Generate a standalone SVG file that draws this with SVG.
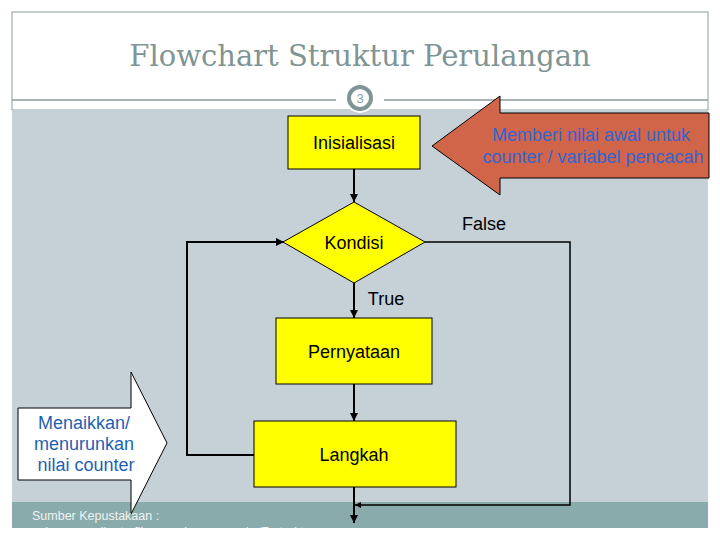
<svg xmlns="http://www.w3.org/2000/svg" width="720" height="540" viewBox="0 0 720 540">
<style>
.box{fill:#FFFF00;stroke:#000;stroke-width:1}
.lbl{font-family:"Liberation Sans",Arial,sans-serif;font-size:18px;fill:#000;text-anchor:middle}
.conn{fill:none;stroke:#000;stroke-width:2}
.thin{fill:none;stroke:#000;stroke-width:1.5}
.blue{font-family:"Liberation Sans",Arial,sans-serif;font-size:18px;text-anchor:middle}
</style>
<defs>
<marker id="ah" viewBox="0 0 10 10" refX="10" refY="5" markerWidth="4" markerHeight="4" orient="auto" markerUnits="strokeWidth">
<path d="M0,0 L10,5 L0,10 z" fill="#000"/>
</marker>
<clipPath id="foot"><rect x="12" y="502" width="696" height="26"/></clipPath>
</defs>
<rect x="0" y="0" width="720" height="540" fill="#fff"/>
<g id="frame">
<rect x="12" y="12" width="696" height="98" fill="#fff" stroke="#8C9C9C" stroke-width="1"/>
<rect x="12" y="110" width="696" height="392" fill="#C5D1D7"/>
<line x1="12" y1="100" x2="336" y2="100" stroke="#8C9C9C" stroke-width="1.5"/>
<line x1="384" y1="100" x2="708" y2="100" stroke="#8C9C9C" stroke-width="1.5"/>
<rect x="12" y="502" width="696" height="26" fill="#8AABAB"/>
</g>
<g id="title">
<text x="360" y="66" font-family="'DejaVu Serif','Liberation Serif',serif" font-size="29" fill="#7F9494" text-anchor="middle">Flowchart Struktur Perulangan</text>
</g>
<g id="pagenum">
<circle cx="360" cy="98" r="15" fill="#fff"/>
<circle cx="360" cy="98" r="11" fill="#fff" stroke="#7F9494" stroke-width="4"/>
<text x="360" y="103" font-family="'Liberation Sans',Arial,sans-serif" font-size="13" fill="#8C9C9C" text-anchor="middle">3</text>
</g>
<g id="connectors">
<line class="conn" x1="354" y1="169" x2="354" y2="202" marker-end="url(#ah)"/>
<line class="conn" x1="354" y1="283" x2="354" y2="318" marker-end="url(#ah)"/>
<line class="conn" x1="354" y1="384" x2="354" y2="421" marker-end="url(#ah)"/>
<polyline class="conn" points="254,455 187,455 187,242 284,242" marker-end="url(#ah)"/>
<polyline class="thin" points="425,242 570,242 570,505 355,505" marker-end="url(#ah)"/>
<line class="conn" x1="354" y1="487" x2="354" y2="523" marker-end="url(#ah)"/>
<text class="lbl" x="484" y="230">False</text>
<text class="lbl" x="386" y="305">True</text>
</g>
<g id="inisialisasi">
<rect class="box" x="288" y="116" width="132" height="53"/>
<text class="lbl" x="354" y="149">Inisialisasi</text>
</g>
<g id="kondisi">
<polygon class="box" points="354,202 425,242 354,283 283,242"/>
<text class="lbl" x="354" y="249">Kondisi</text>
</g>
<g id="pernyataan">
<rect class="box" x="276" y="318" width="156" height="66"/>
<text class="lbl" x="354" y="358">Pernyataan</text>
</g>
<g id="langkah">
<rect class="box" x="254" y="421" width="202" height="66"/>
<text class="lbl" x="354" y="461">Langkah</text>
</g>
<g id="callout-memberi">
<polygon points="432,146 500,96 500,113 709,113 709,178 500,178 500,195" fill="#D0654A" stroke="#000" stroke-width="1"/>
<text class="blue" x="591" y="141" fill="#3264D2">Memberi nilai awal untuk</text>
<text class="blue" x="593" y="163" fill="#3264D2">counter / variabel pencacah</text>
</g>
<g id="callout-menaikkan">
<polygon points="18,408 131,408 131,372 167,443 131,514 131,480 18,480" fill="#fff" stroke="#000" stroke-width="1"/>
<text class="blue" x="84" y="429" fill="#1F5FB4">Menaikkan/</text>
<text class="blue" x="84" y="450" fill="#1F5FB4">menurunkan</text>
<text class="blue" x="86" y="471" fill="#1F5FB4">nilai counter</text>
</g>
<g id="footer" clip-path="url(#foot)">
<text x="32" y="520" font-family="'Liberation Sans',Arial,sans-serif" font-size="12.5" fill="#EEF3F3">Sumber Kepustakaan :</text>
<text x="32" y="536" font-family="'Liberation Sans',Arial,sans-serif" font-size="12.5" fill="#EEF3F3">yohanesrusdianto.files.wordpress.com/.../7-struktu</text>
</g>
</svg>
